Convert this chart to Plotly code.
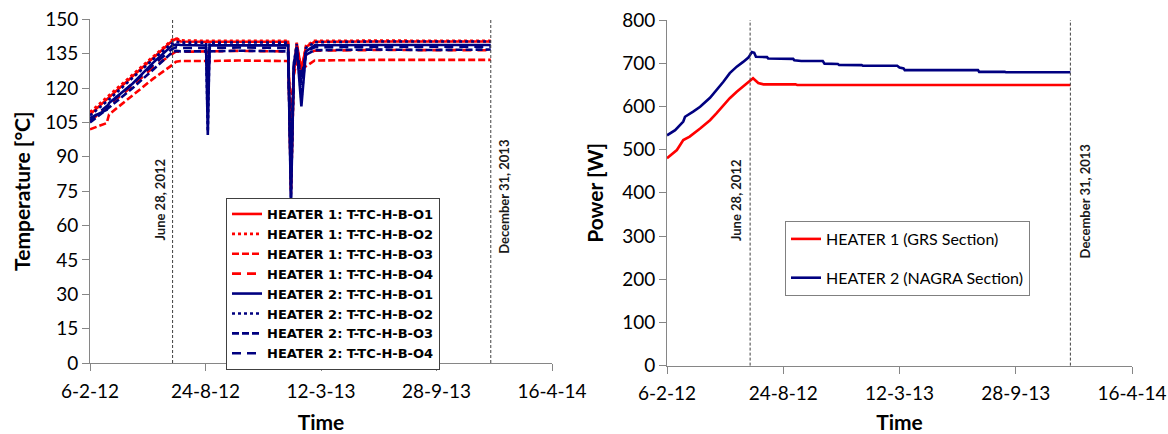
import plotly.graph_objects as go

# ---------------- data: left chart (temperatures) ----------------
t_dates = ["2012-02-06", "2012-03-06", "2012-03-10", "2012-04-20", "2012-05-25",
           "2012-06-27", "2012-07-04", "2012-07-12", "2012-08-25", "2012-08-28",
           "2012-08-31", "2012-10-20", "2013-01-14", "2013-01-19", "2013-01-24",
           "2013-01-29", "2013-02-06", "2013-02-14", "2013-03-01", "2013-06-15",
           "2013-09-20", "2013-12-31"]

h1_o1 = [108.5, 115.0, 116.0, 125.0, 133.0, 140.5, 141.5, 140.3, 140.2, 140.2,
         140.2, 140.3, 140.2, 76.0, 128.0, 139.5, 128.0, 138.0, 140.2, 140.3, 140.2, 140.3]
h1_o2 = [109.5, 116.0, 117.0, 126.0, 134.0, 141.0, 141.8, 140.8, 140.6, 140.6,
         140.6, 140.7, 140.6, 74.0, 126.0, 139.8, 126.0, 138.5, 140.6, 140.7, 140.6, 140.6]
h1_o3 = [102.0, 104.7, 108.5, 117.0, 124.0, 130.0, 131.5, 131.8, 131.8, 131.6,
         131.8, 132.0, 131.8, 110.0, 126.0, 131.5, 129.0, 129.5, 132.0, 132.3, 132.2, 132.3]
h1_o4 = [105.5, 111.5, 112.5, 121.0, 129.0, 135.0, 136.0, 135.8, 136.0, 135.5,
         136.0, 136.2, 136.0, 100.0, 127.0, 135.5, 130.0, 134.5, 136.3, 136.6, 136.4, 136.5]
h2_o1 = [107.0, 110.5, 113.5, 122.0, 131.0, 138.5, 139.0, 138.8, 138.6, 99.5,
         138.6, 138.7, 138.6, 70.0, 130.0, 138.0, 112.0, 136.0, 138.7, 138.8, 138.7, 138.8]
h2_o2 = [108.0, 114.0, 115.0, 124.5, 132.5, 139.5, 140.2, 139.8, 139.8, 101.0,
         139.8, 139.9, 139.8, 72.0, 131.0, 139.2, 115.0, 137.5, 140.0, 140.3, 140.2, 140.3]
h2_o3 = [105.0, 110.5, 111.5, 120.0, 128.0, 135.5, 136.2, 136.0, 136.0, 121.0,
         136.0, 136.3, 136.0, 85.0, 129.0, 135.5, 125.0, 134.5, 136.5, 136.8, 136.6, 136.8]
h2_o4 = [106.0, 112.0, 113.0, 122.0, 130.0, 137.0, 137.8, 137.5, 137.5, 118.0,
         137.5, 137.7, 137.5, 80.0, 130.0, 137.0, 122.0, 136.0, 137.8, 138.0, 137.9, 138.0]

temp_names = ["HEATER 1: T-TC-H-B-O1", "HEATER 1: T-TC-H-B-O2",
              "HEATER 1: T-TC-H-B-O3", "HEATER 1: T-TC-H-B-O4",
              "HEATER 2: T-TC-H-B-O1", "HEATER 2: T-TC-H-B-O2",
              "HEATER 2: T-TC-H-B-O3", "HEATER 2: T-TC-H-B-O4"]
temp_values = [h1_o1, h1_o2, h1_o3, h1_o4, h2_o1, h2_o2, h2_o3, h2_o4]

# ---------------- data: right chart (power) ----------------
p1_dates = ["2012-02-06", "2012-02-23", "2012-03-05", "2012-03-16", "2012-04-03",
            "2012-04-20", "2012-05-01", "2012-05-13", "2012-05-24", "2012-06-05",
            "2012-06-16", "2012-06-25", "2012-07-03", "2012-07-12", "2012-07-21",
            "2012-09-14", "2012-09-17", "2013-12-31"]
p1_power = [480, 499, 522, 530, 549, 568, 584, 603, 619, 634, 646, 657, 665, 654,
            651, 651, 649.5, 649.5]

p2_dates = ["2012-02-06", "2012-02-20", "2012-03-05", "2012-03-08", "2012-03-22",
            "2012-04-03", "2012-04-20", "2012-05-04", "2012-05-13", "2012-05-24",
            "2012-06-05", "2012-06-16", "2012-06-25", "2012-07-01", "2012-07-05",
            "2012-07-08", "2012-07-27", "2012-07-29", "2012-09-10", "2012-09-12",
            "2012-09-22", "2012-09-24", "2012-10-31", "2012-11-03", "2012-11-26",
            "2012-11-28", "2013-01-06", "2013-01-08", "2013-03-08", "2013-03-12",
            "2013-03-19", "2013-03-21", "2013-07-25", "2013-07-27", "2013-09-09",
            "2013-09-11", "2013-12-31"]
p2_power = [533, 545, 565, 576, 588, 599, 620, 642, 657, 677, 692, 703, 713, 726,
            724, 715, 714, 711, 710, 707, 706, 705, 705, 699, 698, 696, 695.5, 694,
            694, 690, 688, 684, 684, 680, 680, 679, 679]

power_names = ["HEATER 1 (GRS Section)", "HEATER 2 (NAGRA Section)"]

# ---------------- axes / annotations text ----------------
x_range = ["2012-02-06", "2014-04-16"]
x_tickvals = ["2012-02-06", "2012-08-24", "2013-03-12", "2013-09-28", "2014-04-16"]
x_ticktext = ["6-2-12", "24-8-12", "12-3-13", "28-9-13", "16-4-14"]
temp_ticks = [0, 15, 30, 45, 60, 75, 90, 105, 120, 135, 150]
power_ticks = [0, 100, 200, 300, 400, 500, 600, 700, 800]
event_dates = ["2012-06-28", "2013-12-31"]
event_labels = ["June 28, 2012", "December 31, 2013"]

RED = "#FF0000"
NAVY = "#000080"
colors = [RED] * 4 + [NAVY] * 4
dashes = ["solid", "dot", "7px,3px", "9px,6px"] * 2

FONT = "Lato"
W, H = 1168, 434

fig = go.Figure()

for name, vals, c, d in zip(temp_names, temp_values, colors, dashes):
    fig.add_trace(go.Scatter(x=t_dates, y=vals, name=name, mode="lines",
                             line=dict(color=c, width=2.6, dash=d),
                             xaxis="x", yaxis="y", legend="legend"))

for i, (name, xd, yd, c) in enumerate(zip(power_names, [p1_dates, p2_dates],
                                          [p1_power, p2_power], [RED, NAVY])):
    fig.add_trace(go.Scatter(x=xd, y=yd, name=name, mode="lines",
                             line=dict(color=c, width=2.6),
                             xaxis="x2", yaxis="y2", legend="legend2",
                             legendgroup="g%d" % i))

AX = "#868686"
tickfont = dict(family=FONT, size=19, color="#000000")
titlefont = dict(family=FONT, size=21, color="#000000", weight="bold")

def xaxis_cfg(domain, anchor):
    return dict(domain=domain, anchor=anchor, type="date", range=x_range,
                tickmode="array", tickvals=x_tickvals, ticktext=x_ticktext,
                showgrid=False, zeroline=False, showline=True, linecolor=AX,
                linewidth=1, ticks="outside", ticklen=7, tickcolor=AX,
                tickfont=tickfont, ticklabelstandoff=4, automargin=False,
                title=dict(text="Time", font=titlefont, standoff=14))

def yaxis_cfg(domain, anchor, rng, ticks, title, standoff):
    return dict(domain=domain, anchor=anchor, range=rng, tickmode="array",
                tickvals=ticks, showgrid=False, zeroline=False, showline=True,
                linecolor=AX, linewidth=1, ticks="outside", ticklen=7,
                tickcolor=AX, tickfont=tickfont, automargin=False,
                title=dict(text=title, font=titlefont, standoff=standoff))

lx = [90 / W, 552 / W]
rx = [667 / W, 1132 / W]
ly = [(H - 363) / H, (H - 19.3) / H]
ry = [(H - 365.6) / H, (H - 20) / H]

shapes = []
annotations = []
ann_font = dict(family=FONT, size=13, color="#1a1a1a", weight="bold")
label_tops = {"x": [157, 138], "x2": [157, 142]}
label_shift = {"x": [-13, 13], "x2": [-14, 15]}
for xr, yr in [("x", "y"), ("x2", "y2")]:
    for k, (dt, lab) in enumerate(zip(event_dates, event_labels)):
        shapes.append(dict(type="line", xref=xr, yref=yr + " domain", x0=dt, x1=dt,
                           y0=0, y1=1, line=dict(color="#404040", width=1, dash="3px,2px")))
        annotations.append(dict(text=lab, xref=xr, yref="paper", x=dt,
                                y=(H - label_tops[xr][k]) / H, xanchor="center",
                                yanchor="top", textangle=-90, showarrow=False,
                                xshift=label_shift[xr][k], font=ann_font))

fig.update_layout(
    width=W, height=H, margin=dict(l=0, r=0, t=0, b=0),
    paper_bgcolor="white", plot_bgcolor="white",
    font=dict(family=FONT, color="#000000"),
    xaxis=xaxis_cfg(lx, "y"),
    yaxis=yaxis_cfg(ly, "x", [0, 150], temp_ticks, "Temperature [°C]", 8),
    xaxis2=xaxis_cfg(rx, "y2"),
    yaxis2=yaxis_cfg(ry, "x2", [0, 800], power_ticks, "Power [W]", 12),
    shapes=shapes, annotations=annotations,
    legend=dict(x=226 / W, y=(H - 198) / H, xanchor="left", yanchor="top",
                bgcolor="white", bordercolor="#404040", borderwidth=1,
                font=dict(family="DejaVu Sans", size=13, color="#000000",
                          weight="bold"),
                entrywidth=190, entrywidthmode="pixels",
                tracegroupgap=0),
    legend2=dict(x=785 / W, y=(H - 221) / H, xanchor="left", yanchor="top",
                 bgcolor="white", bordercolor="#808080", borderwidth=1,
                 font=dict(family=FONT, size=16, color="#000000"),
                 tracegroupgap=15),
)

fig.write_html("out.html")
